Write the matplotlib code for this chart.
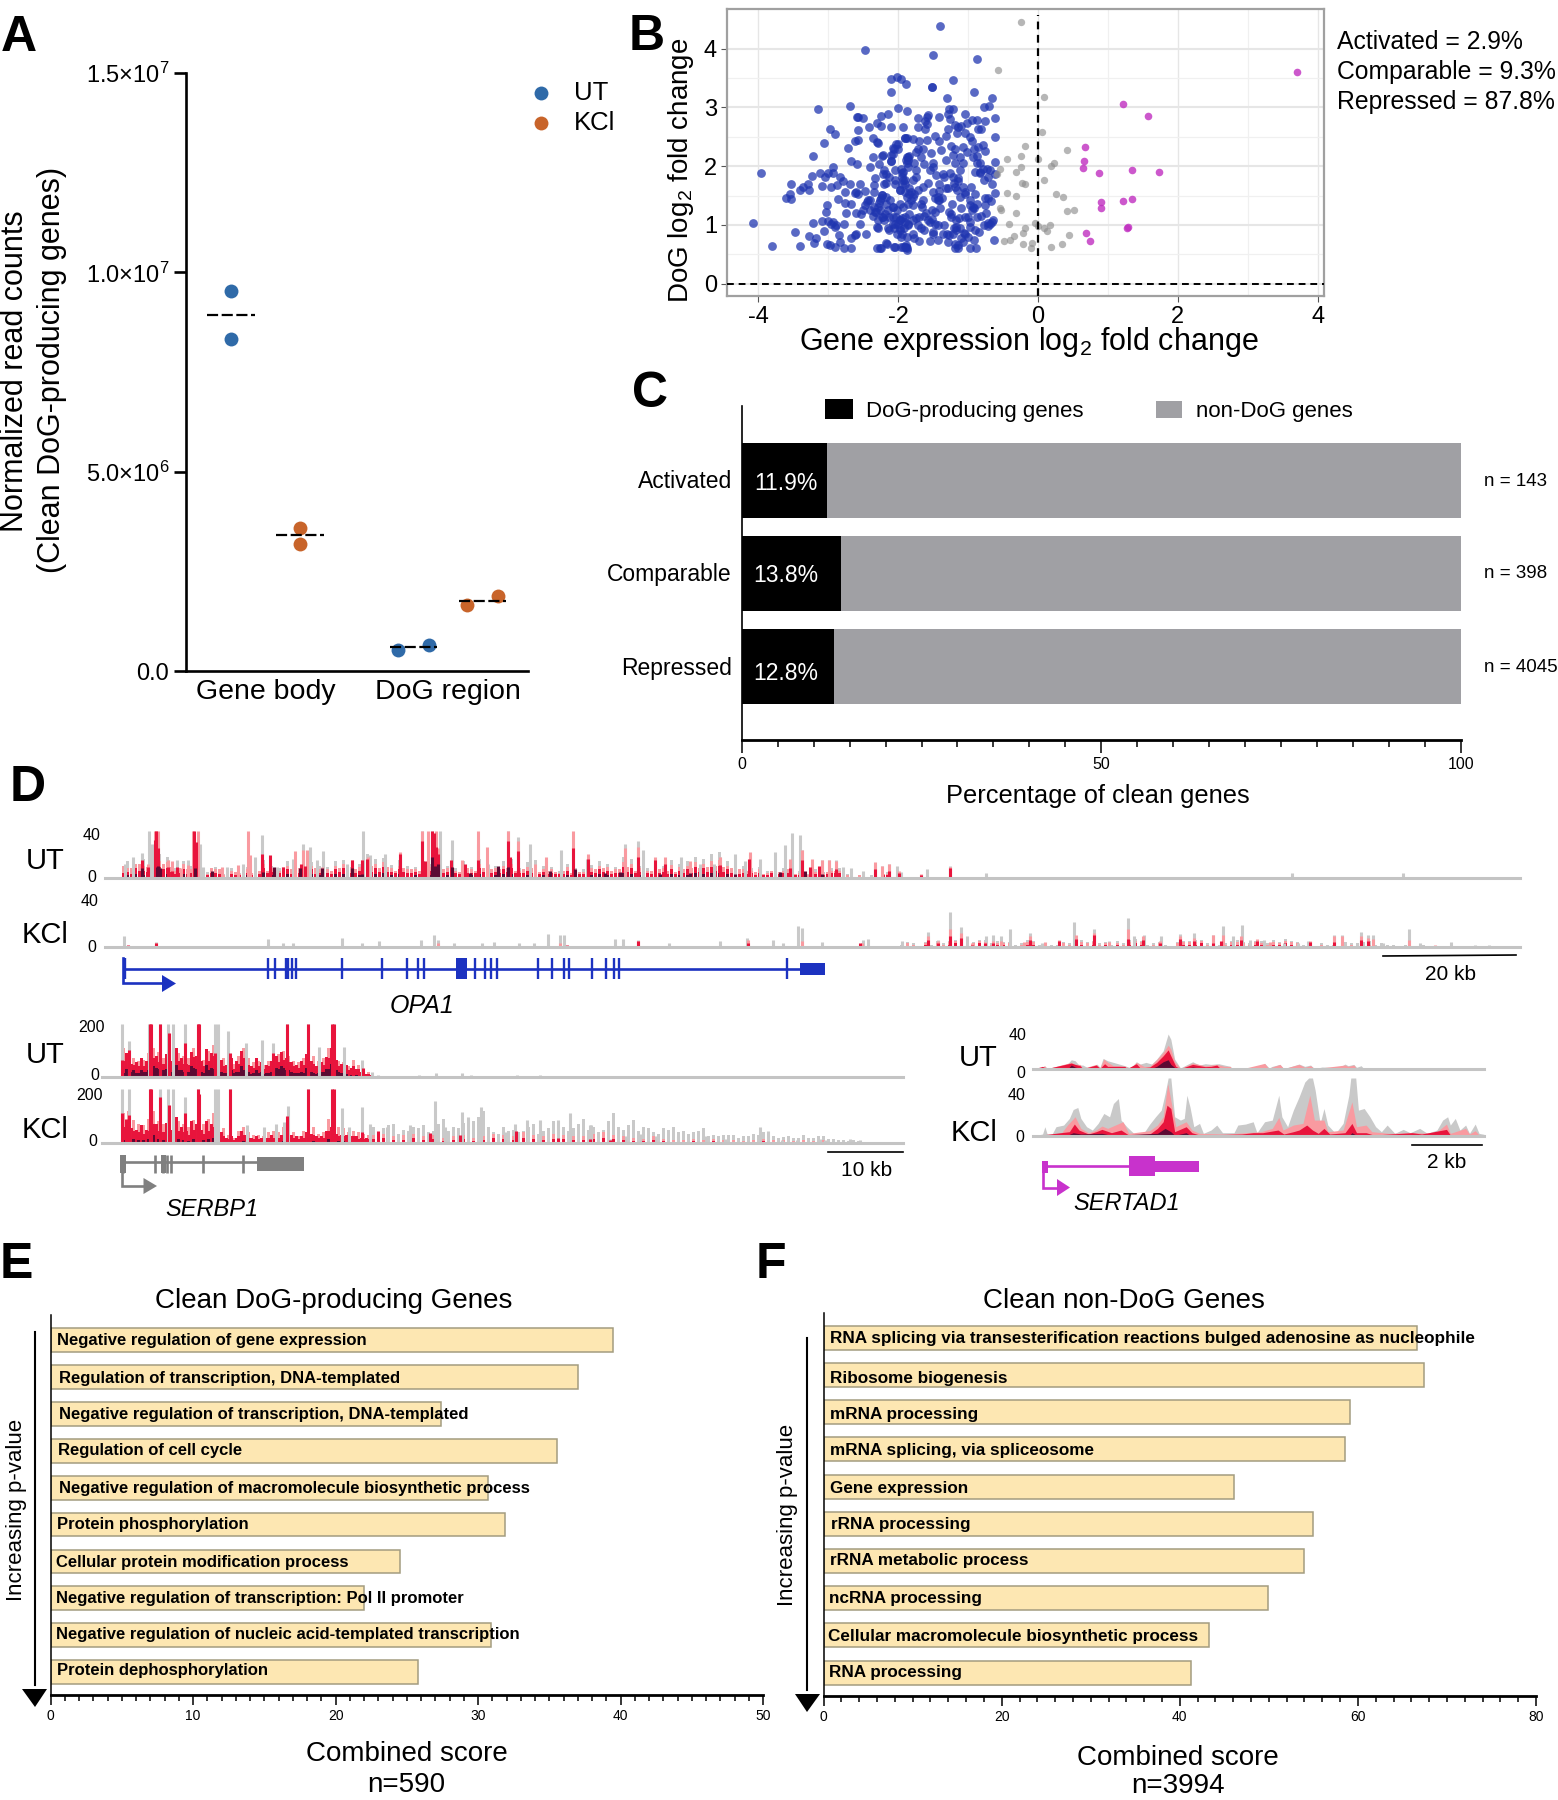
import matplotlib
matplotlib.use('Agg')
import matplotlib.pyplot as plt

plt.rcParams['font.family'] = ['Liberation Sans', 'DejaVu Sans']
plt.rcParams['mathtext.fontset'] = 'custom'
plt.rcParams['mathtext.rm'] = 'Liberation Sans'
plt.rcParams['mathtext.it'] = 'Liberation Sans:italic'
plt.rcParams['mathtext.bf'] = 'Liberation Sans:bold'

W, H = 1558, 1800

# ===== panel A =====
a_groups = ['Gene body', 'DoG region']
a_ut_body = [9.52e6, 8.34e6]
a_kcl_body = [3.59e6, 3.19e6]
a_ut_dog = [0.53e6, 0.645e6]
a_kcl_dog = [1.65e6, 1.88e6]
a_means = [8.92e6, 3.4e6, 0.59e6, 1.76e6]
a_ticks = [0, 5e6, 1e7, 1.5e7]
a_ticklabels = ['0.0', '5.0×10$^{6}$', '1.0×10$^{7}$', '1.5×10$^{7}$']

# ===== panel B =====
b_blue_x = [-2.47, -2.11, -2.02, -1.96, -1.89, -2.11, -3.15, -2.69, -2.0, -1.87, -2.59, -2.57, -2.50, -2.24, -2.15,
            -2.98, -2.90, -2.58, -2.42, -2.30, -2.24, -2.1, -1.93, -3.06, -2.62, -2.57, -2.36, -2.31, -2.29, -1.90,
            -2.72, -3.22, -2.0, -3.97, -4.08, -3.80, -3.40, -3.47, -3.22, -3.28, -3.18, -3.20, -3.06, -3.09, -3.0,
            -3.02, -3.03, -2.96, -2.91, -3.02, -2.98, -2.91, -2.85, -2.84, -2.77, -2.67, -2.68, -2.60, -2.46, -2.55,
            -2.78, -2.74, -2.61, -2.50, -2.29, -2.13, -2.30, -2.26, -2.16, -2.05, -1.93, -1.87, -3.54, -3.41, -3.36,
            -3.29, -3.28, -3.60, -3.55, -3.53, -3.24, -3.12, -3.05, -3.01, -2.94, -2.94, -3.09, -2.96, -2.88, -2.84,
            -2.79, -2.69, -2.76, -2.86, -2.76, -2.67, -2.62, -2.57, -2.54, -2.47, -2.45, -2.35, -2.33, -2.35, -2.23,
            -2.35, -2.26, -2.19, -2.29, -2.02, -2.12, -2.07, -1.98, -1.95, -1.98, -2.68, -2.59, -2.41, -2.36, -2.27,
            -2.22, -2.22, -2.10, -2.10, -2.07, -2.01, -1.88, -1.93, -2.18, -2.04, -1.90,
            -1.40, -1.50, -0.87, -1.22, -1.52, -1.52, -0.91, -1.30, -0.66, -0.78, -0.70, -1.27, -1.22, -1.04, -1.41,
            -1.58, -1.59, -1.72, -1.62, -1.29, -1.26, -0.95, -0.88, -0.76, -0.62, -1.72, -1.62, -1.59, -1.19, -1.14,
            -1.10, -1.02, -1.29, -1.16, -1.04, -0.86, -0.81, -1.32, -0.62, -1.91, -1.88, -1.79, -1.70, -1.59, -1.47,
            -1.42, -0.98, -0.95, -2.03, -2.06, -1.72, -1.65, -1.39, -1.24, -1.19, -1.08, -0.92, -0.86, -0.79, -0.76,
            -2.23, -2.08, -1.85, -1.75, -1.53, -1.68, -1.11, -1.21, -0.88, -2.11, -1.89, -1.78, -1.63, -1.50, -0.88,
            -0.83, -0.61, -1.07, -1.19, -1.96, -1.86, -2.2, -2.18, -1.94, -1.75, -1.46, -1.36, -1.26, -1.12, -1.22,
            -0.90, -0.83, -0.73, -0.69, -0.71, -2.2, -2.05, -1.94, -1.79, -1.58, -1.32, -1.15, -0.66, -0.78, -0.96,
            -1.84, -1.98, -1.77, -1.50, -1.16, -1.05, -0.62, -2.23, -1.48, -1.43, -1.38, -0.90, -0.76, -0.68, -0.98,
            -1.12, -0.88, -1.98, -1.86, -1.67, -1.23, -2.18, -2.08, -1.79, -1.48, -1.28, -1.10, -0.95, -0.74, -2.23,
            -2.13, -1.98, -1.90, -1.70, -1.63, -1.55, -1.17, -1.05, -0.66, -0.71, -0.77, -1.72, -1.48, -1.34, -1.12,
            -0.98, -0.90, -2.15, -1.98, -1.86, -1.50, -1.63, -0.85, -1.96, -1.78, -1.55, -1.43, -1.29, -1.19, -1.14,
            -1.07, -0.98, -0.89, -0.91, -0.63, -2.18, -2.06, -1.96, -1.89, -1.87, -2.25, -1.20, -1.13, -1.43, -1.40,
            -1.28, -1.25, -1.85, -1.82, -1.10, -0.92, -0.72, -1.20, -1.15, -0.98, -1.05, -1.52, -1.88, -1.92, -2.05,
            -2.24, -2.28, -2.32, -2.20, -1.66, -1.60, -1.52, -1.42, -1.30, -1.06, -0.82, -2.36, -2.40, -1.74, -1.70,
            -1.17, -1.17, -2.03, -1.94, -1.84, -1.82, -1.79, -1.91, -1.94, -1.86, -1.43, -1.41, -1.34, -1.29, -0.83,
            -0.79, -0.98, -0.93, -1.22, -1.14, -1.19, -1.89, -1.50, -0.64, -0.69, -1.72, -1.65, -1.58, -1.24, -1.0,
            -0.88, -2.08, -2.06, -1.79, -1.79, -1.67, -1.36, -1.05, -1.0, -0.76, -0.71, -0.61, -1.07, -1.19, -1.41,
            -1.65, -1.75, -2.05, -2.13, -1.55, -1.5, -1.02, -0.93, -1.31, -2.29, -2.22, -2.14, -2.07, -1.93, -2.0,
            -1.9, -1.86, -1.90, -1.98, -1.88, -1.86, -1.93, -2.17, -2.26, -2.41, -2.33, -2.53, -2.48, -2.43, -2.60,
            -2.31, -2.02, -1.90, -1.88, -2.62, -2.93, -2.89]
b_blue_y = [3.97, 3.48, 3.51, 3.49, 3.39, 3.27, 2.97, 3.03, 2.99, 2.94, 2.84, 2.83, 2.82, 2.86, 2.89,
            2.64, 2.55, 2.61, 2.66, 2.74, 2.68, 2.67, 2.66, 2.40, 2.43, 2.45, 2.48, 2.41, 2.40, 2.48,
            2.31, 2.18, 2.37, 1.89, 1.03, 0.64, 0.64, 0.88, 1.03, 0.81, 0.78, 0.70, 0.89, 1.07, 1.06,
            1.34, 1.22, 1.02, 0.97, 0.68, 0.66, 0.62, 0.82, 0.71, 0.61, 0.61, 0.77, 0.84, 0.85, 1.01,
            1.02, 1.20, 1.20, 1.25, 0.94, 0.92, 0.61, 0.60, 0.68, 0.62, 0.62, 0.61, 1.69, 1.59, 1.65,
            1.70, 1.59, 1.45, 1.52, 1.44, 1.83, 1.88, 1.82, 1.89, 1.99, 1.89, 1.67, 1.65, 1.68, 1.81,
            1.75, 1.70, 1.56, 1.44, 1.38, 1.36, 1.55, 1.53, 1.70, 1.58, 1.39, 1.68, 1.79, 1.56, 1.51,
            1.31, 1.25, 1.19, 1.08, 1.25, 1.42, 1.14, 1.08, 0.85, 0.94, 2.09, 2.03, 1.99, 2.15, 2.03,
            2.19, 1.86, 2.19, 2.09, 2.31, 2.30, 2.16, 1.90, 1.72, 1.70, 1.70,
            4.38, 3.90, 3.82, 3.47, 3.35, 3.34, 3.26, 3.16, 3.16, 3.01, 3.03, 2.98, 2.97, 2.89, 2.84,
            2.87, 2.83, 2.82, 2.77, 2.89, 2.81, 2.79, 2.79, 2.77, 2.82, 2.67, 2.63, 2.72, 2.70, 2.66,
            2.68, 2.73, 2.63, 2.56, 2.57, 2.63, 2.64, 2.52, 2.49, 2.48, 2.48, 2.47, 2.43, 2.44, 2.52,
            2.43, 2.50, 2.43, 2.37, 2.30, 2.29, 2.30, 2.27, 2.34, 2.30, 2.32, 2.30, 2.33, 2.36, 2.26,
            2.18, 2.20, 2.18, 2.24, 2.22, 2.16, 2.16, 2.19, 2.18, 2.09, 2.10, 2.06, 2.03, 1.99, 2.05,
            2.06, 2.07, 2.05, 2.05, 1.96, 1.99, 1.93, 1.86, 1.88, 1.93, 1.85, 1.86, 1.89, 1.93, 1.82,
            1.90, 1.88, 1.96, 1.93, 1.82, 1.70, 1.76, 1.70, 1.76, 1.72, 1.62, 1.75, 1.69, 1.76, 1.65,
            1.62, 1.59, 1.53, 1.56, 1.59, 1.56, 1.55, 1.51, 1.45, 1.42, 1.45, 1.52, 1.46, 1.41, 1.42,
            1.48, 1.36, 1.36, 1.36, 1.36, 1.36, 1.36, 1.31, 1.34, 1.22, 1.22, 1.28, 1.25, 1.20, 1.14,
            1.14, 1.08, 1.05, 1.14, 1.16, 1.05, 1.08, 1.14, 1.05, 1.03, 1.0, 1.0, 1.02, 1.0, 0.94,
            0.97, 0.91, 0.94, 0.91, 1.0, 0.88, 0.91, 0.88, 0.80, 0.77, 0.73, 0.74, 0.71, 0.67, 0.60,
            0.71, 0.61, 0.60, 0.74, 0.75, 0.69, 0.62, 0.62, 0.65, 0.58, 0.60, 0.95, 1.12, 1.0, 1.28,
            0.82, 1.18, 1.18, 1.42, 0.78, 1.28, 0.98, 1.72, 1.80, 1.05, 1.52, 1.26, 1.48, 0.95, 1.02,
            1.46, 1.38, 1.22, 1.08, 1.30, 1.20, 1.10, 1.58, 0.84, 0.86, 1.16, 1.16, 1.42, 1.12, 0.72,
            0.91, 0.97, 1.14, 1.11, 1.53, 1.56, 1.48, 1.76, 1.82, 2.16, 1.48, 1.42, 1.82, 1.62, 1.90,
            1.96, 1.34, 1.31, 0.85, 0.65, 0.60, 0.62, 0.85, 1.08, 1.02, 1.59, 1.42, 1.08, 1.14, 1.14,
            1.14, 1.02, 0.94, 1.08, 0.85, 0.94, 0.85, 0.85, 0.80, 1.34, 1.45, 1.87, 1.65, 1.65, 1.70,
            1.65, 1.82, 1.93, 1.82, 1.93, 2.05, 2.24, 2.16, 2.10, 1.31, 1.14, 1.25, 1.31, 1.31, 1.02,
            1.14, 1.02, 1.56, 1.59, 2.05, 2.10, 1.76, 1.48, 1.42, 1.25, 1.22, 1.19, 1.34, 1.42, 1.56,
            0.97, 0.85, 0.62, 0.80, 0.82, 1.05, 1.0]
b_grey_x = [-0.25, -0.58, 0.08, 0.06, -0.18, 0.42, -0.25, -0.44, 0, 0.23, 0.19, -0.25, -0.54, -0.32, -0.59, 0.08,
            -0.23, -0.19, -0.44, -0.32, 0.25, 0.35, -0.54, -0.53, -0.32, 0.41, 0.51, -0.42, -0.04, 0, 0.17, -0.18,
            -0.21, 0.08, 0.13, 0.44, -0.34, -0.40, -0.49, 0.34, 0.18, -0.21, -0.08, -0.10]
b_grey_y = [4.46, 3.64, 3.18, 2.58, 2.34, 2.28, 2.18, 2.12, 2.12, 2.05, 2.0, 1.99, 1.95, 1.90, 1.87, 1.77,
            1.72, 1.69, 1.54, 1.49, 1.52, 1.47, 1.28, 1.26, 1.20, 1.23, 1.26, 1.02, 1.04, 0.98, 1.0, 0.94,
            0.87, 0.95, 0.89, 0.82, 0.81, 0.74, 0.72, 0.68, 0.62, 0.67, 0.69, 0.60]
b_pink_x = [3.71, 1.21, 1.57, 0.67, 0.66, 0.64, 0.87, 1.34, 1.73, 1.34, 1.21, 0.90, 0.90, 1.27, 1.28, 0.69, 0.75]
b_pink_y = [3.60, 3.05, 2.85, 2.32, 2.08, 1.97, 1.88, 1.94, 1.90, 1.44, 1.41, 1.39, 1.28, 0.95, 0.96, 0.87, 0.73]
b_notes = ['Activated = 2.9%', 'Comparable = 9.3%', 'Repressed = 87.8%']

# ===== panel C =====
c_cats = ['Activated', 'Comparable', 'Repressed']
c_dog = [11.9, 13.8, 12.8]
c_non = [88.1, 86.2, 87.2]
c_n = ['n = 143', 'n = 398', 'n = 4045']

# ===== panels E, F =====
e_terms = ['Negative regulation of gene expression', 'Regulation of transcription, DNA-templated',
           'Negative regulation of transcription, DNA-templated', 'Regulation of cell cycle',
           'Negative regulation of macromolecule biosynthetic process', 'Protein phosphorylation',
           'Cellular protein modification process', 'Negative regulation of transcription: Pol II promoter',
           'Negative regulation of nucleic acid-templated transcription', 'Protein dephosphorylation']
e_scores = [39.5, 37.0, 27.4, 35.55, 30.7, 31.9, 24.5, 22.0, 30.9, 25.8]
f_terms = ['RNA splicing via transesterification reactions bulged adenosine as nucleophile', 'Ribosome biogenesis',
           'mRNA processing', 'mRNA splicing, via spliceosome', 'Gene expression', 'rRNA processing',
           'rRNA metabolic process', 'ncRNA processing', 'Cellular macromolecule biosynthetic process',
           'RNA processing']
f_scores = [66.6, 67.4, 59.1, 58.6, 46.1, 55.0, 53.9, 49.9, 43.3, 41.3]

# ===== panel D, OPA1 =====
opa1_ut_grey_x = [125, 133, 142, 149, 152, 155, 158, 168, 177, 188, 197, 200, 203, 227, 243, 250, 255, 262, 277, 293,
                  303, 310, 317, 323, 347, 363, 370, 385, 400, 422, 432, 440, 452, 478, 488, 508, 518, 530, 546, 561,
                  587, 625, 638, 643, 681, 700, 714, 720, 735, 745, 750, 760, 775, 785, 792, 800, 802, 822, 829, 836,
                  843, 851, 863, 875, 882, 889, 897, 901, 927, 950, 986, 1292, 1403]
opa1_ut_grey_h = [12, 18, 21, 40, 29, 19, 33, 15, 15, 15, 22, 29, 9, 9, 12, 12, 18, 36, 9, 16,
                  29, 26, 15, 23, 12, 40, 19, 20, 15, 40, 40, 40, 32, 29, 12, 40, 35, 29, 15, 24,
                  16, 29, 31, 24, 18, 12, 12, 18, 20, 14, 20, 16, 22, 28, 38, 36, 24, 15, 15, 15,
                  9, 8, 6, 12, 10, 12, 10, 5, 7, 10, 4, 4, 4]
opa1_ut_pink_x = [148, 155, 156, 158, 168, 172, 181, 188, 193, 198, 222, 238, 248, 250, 262, 283, 295, 303, 307, 322,
                  352, 362, 368, 400, 422, 428, 436, 438, 451, 462, 478, 487, 508, 518, 535, 546, 573, 588, 625, 638,
                  655, 665, 690, 720, 750, 790, 802, 812, 822, 829, 836, 875, 882, 889, 899, 921, 950]
opa1_ut_pink_h = [12, 40, 40, 40, 15, 14, 8, 11, 40, 40, 9, 11, 40, 19, 15, 9, 23, 24, 24, 9,
                  15, 15, 18, 22, 40, 40, 40, 25, 11, 15, 40, 26, 40, 31, 12, 18, 40, 20, 25, 26,
                  18, 18, 14, 18, 22, 16, 24, 16, 15, 15, 14, 13, 10, 12, 6, 3, 9]
opa1_ut_red_x = [142, 148, 155, 156, 158, 168, 172, 177, 194, 196, 262, 270, 283, 301, 305, 352, 362, 367, 400, 422,
                 425, 432, 434, 436, 438, 451, 465, 478, 508, 510, 518, 573, 588, 638, 655, 665, 720, 749, 790, 802,
                 810, 819, 836, 875, 889, 899, 921, 950]
opa1_ut_red_h = [15, 9, 32, 40, 25, 9, 6, 9, 40, 30, 20, 19, 9, 12, 10, 15, 15, 16, 20, 31,
                 14, 40, 38, 26, 20, 15, 12, 15, 31, 18, 23, 25, 16, 18, 15, 12, 11, 16, 8, 15,
                 9, 10, 7, 7, 6, 4, 2, 8]
opa1_ut_dark_x = [142, 157, 158, 160, 195, 212, 263, 274, 300, 322, 352, 362, 432, 435, 438, 452, 470, 498, 508, 550,
                  575, 605, 620, 660, 690, 735, 780, 805, 822]
opa1_ut_dark_h = [8, 9, 10, 8, 8, 6, 5, 9, 8, 8, 8, 3, 18, 10, 12, 9, 4, 10, 9, 6,
                  7, 4, 5, 3, 4, 3, 5, 6, 3]
# 8-unit bins from position 122
opa1_ut_pink_bins = [10, 8, 12, 9, 6, 12, 9, 8, 7, 9, 6, 8, 7, 3, 5, 3, 4, 6, 6, 5, 5, 7, 8, 9, 8, 7, 6, 8, 9, 7,
                     6, 10, 8, 9, 6, 8, 7, 6, 8, 8, 7, 6, 5, 8, 6, 8, 7, 7, 8, 6, 7, 8, 5, 6, 5, 6, 4, 5, 5, 7,
                     8, 6, 7, 9, 6, 5, 6, 7, 6, 5, 7, 8, 8, 9, 10, 9, 8, 7, 6, 5, 3, 6, 5, 7, 3, 2, 3, 3, 5, 6,
                     2, 1, 2, 1, 1, 3, 1, 0]
opa1_ut_red_bins = [4, 3, 6, 5, 4, 7, 5, 4, 3, 4, 3, 4, 3, 1, 2, 1, 2, 3, 4, 3, 3, 3, 4, 5, 3, 4, 3, 5, 6, 4,
                    3, 5, 5, 5, 4, 5, 4, 3, 4, 5, 4, 3, 3, 4, 4, 5, 4, 4, 5, 4, 4, 4, 3, 3, 3, 3, 2, 3, 3, 4,
                    5, 3, 4, 5, 4, 2, 3, 4, 3, 3, 4, 4, 5, 5, 6, 5, 4, 3, 3, 2, 2, 4, 3, 4, 2, 1, 2, 2, 3, 4,
                    1, 0, 1, 1, 0, 2, 0, 0]
# same bins, second row of spikes between the first, from position 126
opa1_ut_between_grey = [14, 10, 16, 12, 20, 18, 8, 14, 10, 12, 5, 9, 3, 8, 4, 9, 12, 15, 10, 8, 14, 18, 11, 13, 10, 9, 14,
                        15, 9, 12, 20, 16, 17, 11, 15, 10, 9, 14, 12, 18, 10, 8, 14, 9, 16, 12, 10, 14, 16, 8, 13, 15,
                        10, 9, 6, 12, 8, 7, 11, 14, 12, 9, 18, 16, 10, 8, 12, 10, 15, 12, 14, 18, 16, 20, 22, 14, 12,
                        10, 8, 9, 6, 12, 8, 10, 6, 3, 7, 5, 8, 8, 3, 1, 5, 2, 1, 5, 1, 0]
opa1_ut_between_pink = [8, 12, 10, 7, 14, 13, 6, 12, 7, 9, 3, 7, 2, 6, 3, 7, 9, 12, 8, 6, 10, 13, 9, 10, 7, 7, 10,
                        12, 7, 9, 14, 12, 13, 8, 10, 7, 7, 10, 9, 13, 8, 6, 10, 7, 12, 10, 8, 10, 12, 6, 9, 10,
                        7, 7, 4, 9, 6, 5, 8, 10, 9, 7, 13, 12, 8, 6, 9, 8, 11, 9, 10, 13, 12, 14, 15, 10, 9,
                        7, 6, 7, 4, 9, 6, 7, 4, 2, 5, 3, 6, 6, 2, 1, 3, 1, 1, 3, 0, 0]
opa1_ut_between_red = [5, 8, 6, 4, 9, 8, 3, 7, 4, 6, 2, 4, 1, 3, 2, 4, 6, 8, 5, 4, 7, 9, 5, 7, 4, 4, 7,
                       8, 4, 6, 10, 8, 9, 5, 7, 4, 5, 7, 6, 9, 5, 4, 7, 4, 8, 7, 5, 7, 8, 4, 6, 7,
                       5, 4, 3, 6, 4, 3, 5, 7, 6, 4, 9, 8, 5, 4, 6, 5, 7, 6, 7, 9, 8, 9, 10, 7, 6,
                       4, 4, 4, 2, 6, 4, 4, 2, 1, 3, 2, 4, 4, 1, 0, 2, 1, 0, 2, 0, 0]
opa1_ut_between_dark = [2, 3, 2, 1, 4, 3, 1, 3, 1, 2, 1, 1, 0, 1, 1, 2, 3, 4, 2, 1, 3, 4, 2, 3, 2, 1, 3,
                        3, 1, 2, 5, 3, 4, 2, 3, 1, 2, 3, 2, 4, 2, 1, 3, 2, 3, 3, 2, 3, 3, 1, 2, 3,
                        2, 1, 1, 2, 1, 1, 2, 3, 2, 1, 4, 3, 2, 1, 2, 1, 3, 2, 2, 4, 3, 4, 4, 3, 2,
                        1, 1, 1, 0, 2, 1, 1, 0, 0, 1, 0, 1, 1, 0, 0, 0, 0, 0, 0, 0, 0]
opa1_kcl_grey_x = [124, 156, 268, 283, 293, 342, 362, 379, 421, 434, 438, 454, 482, 494, 519, 534, 548, 560, 564, 615,
                   623, 638, 669, 720, 747, 773, 783, 798, 802, 822, 863, 868, 902, 928, 938, 950, 961, 967, 986, 993,
                   1001, 1010, 1030, 1042, 1074, 1094, 1109, 1128, 1134, 1144, 1161, 1180, 1194, 1213, 1223, 1233,
                   1242, 1250, 1264, 1284, 1298, 1308, 1334, 1342, 1361, 1368, 1373, 1383, 1409, 1420, 1451, 1475, 1489]
opa1_kcl_grey_h = [9, 4, 7, 3, 3, 8, 3, 5, 6, 10, 6, 3, 3, 4, 3, 3, 11, 10, 10, 7,
                   7, 6, 3, 5, 8, 6, 3, 18, 16, 4, 6, 7, 5, 13, 6, 30, 17, 9, 9, 10,
                   9, 15, 12, 3, 21, 15, 5, 25, 9, 10, 9, 11, 12, 10, 18, 9,
                   19, 6, 6, 3, 3, 5, 10, 10, 13, 10, 10, 3, 15, 3, 4, 2, 2]
opa1_kcl_pink_x = [156, 438, 560, 638, 748, 802, 862, 928, 938, 950, 961, 972, 985, 993, 1001, 1024, 1030, 1045, 1059,
                   1076, 1094, 1109, 1128, 1143, 1160, 1180, 1194, 1213, 1223, 1241, 1257, 1270, 1310, 1334, 1342,
                   1361, 1368, 1373, 1409, 1435]
opa1_kcl_pink_h = [3, 3, 3, 5, 6, 5, 3, 9, 5, 15, 12, 3, 4, 5, 5, 4, 9, 4, 6,
                   10, 12, 4, 15, 9, 5, 9, 8, 10, 10, 9, 7, 4, 5, 9, 9,
                   9, 8, 7, 6, 2]
opa1_kcl_red_x = [128, 156, 567, 638, 748, 860, 928, 938, 950, 961, 972, 985, 993, 1030, 1059, 1076, 1094, 1128, 1143,
                  1160, 1180, 1194, 1213, 1221, 1241, 1257, 1310, 1334, 1361, 1368]
opa1_kcl_red_h = [2, 3, 2, 5, 3, 3, 6, 3, 9, 8, 2, 3, 3, 6, 5, 7, 10, 7, 6,
                  3, 7, 5, 3, 5, 6, 5, 4, 4, 6, 5]
# 6-unit bins from position 900, low signal under the peaks
opa1_kcl_tail_grey = [2, 4, 3, 1, 4, 2, 5, 3, 5, 6, 3, 2, 4, 6, 6, 3, 5, 4, 4, 2, 3, 6, 5, 2, 3, 2, 2, 4, 3, 5, 6, 4,
                      5, 3, 4, 2, 5, 3, 6, 7, 5, 2, 3, 4, 2, 1, 4, 5, 5, 6, 6, 3, 4, 2, 3, 5, 6, 4, 3, 5, 5, 3,
                      6, 4, 7, 5, 4, 2, 3, 1, 3, 2, 2, 1, 4, 3, 3, 4, 5, 2, 3, 2, 2, 1, 2, 1, 1, 2, 1, 1]
opa1_kcl_tail_pink = [1, 3, 2, 0, 3, 1, 3, 2, 4, 5, 2, 1, 3, 5, 4, 2, 3, 3, 3, 1, 2, 4, 4, 1, 2, 1, 1, 3, 2, 4, 4, 3,
                      4, 2, 3, 1, 3, 2, 4, 5, 4, 1, 2, 3, 1, 1, 3, 4, 4, 4, 5, 2, 3, 1, 2, 4, 4, 3, 2, 4, 3, 2,
                      4, 3, 5, 4, 3, 1, 2, 0, 2, 1, 1, 0, 1, 2, 1, 1, 2, 1, 1, 1, 1, 0, 1, 0, 1, 0, 0, 0]
opa1_kcl_tail_red = [0, 1, 1, 0, 2, 0, 1, 1, 2, 3, 1, 0, 1, 3, 2, 1, 2, 2, 1, 0, 1, 2, 2, 0, 1, 0, 0, 1, 1, 2, 2, 1,
                     2, 1, 2, 0, 2, 1, 2, 3, 2, 0, 1, 1, 0, 0, 1, 2, 2, 2, 3, 1, 1, 0, 1, 2, 2, 1, 1, 2, 2, 1,
                     2, 2, 3, 2, 1, 0, 1, 0, 1, 0, 0, 0, 0, 1, 0, 0, 1, 0, 0, 0, 0, 0, 0, 0, 0, 0, 0, 0]
opa1_exons = [125, 268, 275, 286, 288, 292, 296, 342, 382, 407, 418, 424, 475, 485, 491, 497, 538, 552, 564, 569, 592,
              606, 614, 619, 787]

# ===== panel D, SERBP1 =====
serbp1_ut_grey_x = [122, 129, 149, 160, 168, 173, 185, 198, 215, 218, 228, 246, 262, 273, 287, 308, 319, 333, 344, 362,
                    372, 378, 419, 436, 462, 471, 517, 540]
serbp1_ut_grey_h = [200, 135, 200, 200, 200, 200, 200, 200, 200, 200, 172, 128, 140, 128, 200, 200, 115, 200, 115, 65,
                    20, 8, 9, 15, 15, 9, 6, 9]
serbp1_ut_red_x = [122, 129, 150, 151, 160, 169, 185, 198, 199, 215, 230, 273, 287, 308, 332, 334, 353, 363]
serbp1_ut_red_h = [65, 103, 200, 200, 200, 166, 128, 200, 200, 90, 90, 90, 200, 200, 200, 200, 40, 34]
# 5-unit bins from position 122
serbp1_ut_pink_bins = [110, 80, 70, 60, 65, 90, 110, 95, 70, 100, 85, 90, 80, 70, 110, 70, 65, 100, 120, 80, 70, 60, 50,
                       80, 110, 70, 55, 60, 45, 60, 75, 85, 100, 80, 60, 55, 70, 100, 80, 60, 70, 110, 120, 60, 55, 40,
                       65, 45, 30, 20]
serbp1_ut_red_bins = [60, 70, 45, 40, 40, 55, 70, 55, 50, 65, 55, 60, 50, 45, 75, 50, 40, 60, 80, 50, 40, 40, 30,
                      50, 70, 45, 35, 40, 30, 40, 50, 55, 65, 55, 40, 35, 45, 70, 50, 35, 45, 70, 85, 40, 35, 25,
                      40, 30, 15, 10]
serbp1_ut_dark_bins = [15, 30, 25, 15, 20, 25, 40, 30, 25, 35, 20, 25, 20, 20, 35, 25, 15, 25, 30, 20, 15, 15, 15,
                       20, 25, 20, 15, 15, 10, 15, 20, 30, 35, 25, 15, 15, 15, 25, 15, 15, 20, 30, 40, 20, 10, 5,
                       10, 5, 3, 2]
# second row of spikes from position 125
serbp1_ut_between_red = [90, 50, 55, 70, 60, 100, 80, 45, 85, 60, 110, 70, 50, 95, 80, 60, 105, 90, 55, 65, 45, 70, 60,
                         100, 50, 40, 70, 55, 45, 60, 80, 95, 70, 55, 45, 60, 85, 60, 40, 55, 75, 110, 65, 50, 45, 35,
                         30, 20, 12, 8]
serbp1_ut_between_dark = [30, 20, 15, 25, 20, 45, 35, 15, 30, 20, 45, 25, 15, 40, 30, 20, 45, 35, 20, 20, 15, 25, 20,
                          40, 15, 10, 25, 20, 15, 20, 35, 40, 25, 20, 15, 20, 35, 20, 12, 20, 30, 50, 25, 15, 10, 8,
                          8, 5, 2, 2]
serbp1_kcl_grey_x = [122, 129, 150, 160, 168, 173, 185, 198, 215, 218, 230, 247, 264, 276, 284, 288, 308, 332, 342, 349,
                     362, 370, 387, 410, 435, 445, 462, 468, 481, 505, 515, 527, 540, 558, 570, 591, 590, 610, 626, 640,
                     656, 678, 706, 725, 760, 768, 782, 797, 820, 825, 850, 860]
serbp1_kcl_grey_h = [200, 200, 200, 200, 200, 200, 169, 200, 200, 200, 200, 66, 60, 72, 78, 136, 200, 200, 128, 60,
                     134, 72, 60, 66, 155, 60, 116, 97, 134, 42, 72, 87, 87, 85, 112, 68, 68, 15, 25, 35, 25, 25, 25,
                     15, 60, 45, 10, 12, 16, 12, 15, 12]
serbp1_kcl_red_x = [122, 126, 129, 150, 151, 160, 169, 185, 198, 199, 230, 287, 308, 332, 334, 362, 378, 430, 460, 516,
                    558, 590, 610]
serbp1_kcl_red_h = [110, 90, 105, 200, 200, 170, 140, 110, 200, 180, 200, 100, 200, 200, 200, 40, 45, 38, 30, 45,
                    20, 14, 10]
# 5-unit bins from position 122
serbp1_kcl_pink_bins = [110, 120, 85, 70, 65, 90, 120, 80, 70, 100, 90, 80, 70, 60, 85, 70, 70, 90, 110, 80, 55, 30, 20,
                        45, 60, 40, 30, 30, 25, 40, 45, 40, 60, 50, 40, 25, 45, 100, 60, 35, 40, 90, 110, 60, 55, 40,
                        45, 40, 35, 30]
serbp1_kcl_red_bins = [60, 70, 45, 40, 35, 45, 70, 45, 40, 60, 50, 45, 40, 30, 50, 40, 35, 45, 60, 40, 25, 15, 10,
                       25, 30, 20, 15, 15, 10, 20, 20, 20, 30, 25, 20, 15, 20, 50, 30, 20, 20, 45, 60, 25, 25, 15,
                       25, 15, 15, 15]
serbp1_kcl_dark_bins = [10, 25, 15, 10, 10, 15, 30, 15, 10, 25, 15, 15, 10, 8, 15, 10, 10, 15, 20, 10, 5, 2, 2,
                        5, 8, 5, 3, 3, 2, 4, 5, 4, 8, 8, 5, 3, 4, 15, 8, 3, 5, 15, 25, 8, 6, 3,
                        5, 3, 3, 3]
# second row of spikes from position 125
serbp1_kcl_between_red = [80, 55, 50, 65, 50, 85, 70, 40, 75, 50, 95, 60, 45, 80, 70, 50, 80, 70, 45, 40, 20, 25, 20,
                          45, 30, 20, 25, 20, 20, 30, 35, 30, 35, 30, 25, 25, 40, 35, 25, 25, 45, 60, 35, 30, 30, 25,
                          25, 20, 18, 15]
# 10-unit bins from position 372, with a second row from position 377
serbp1_kcl_tail_grey = [60, 55, 70, 50, 60, 65, 45, 90, 60, 75, 80, 120, 40, 60, 50, 45, 70, 45, 80, 60,
                        55, 90, 60, 50, 110, 50, 85, 60, 40, 55, 60, 45, 40, 55, 30, 30, 28, 25, 35, 40,
                        25, 22, 18, 30, 20, 25, 15, 12, 10]
serbp1_kcl_tail_grey2 = [40, 65, 35, 45, 55, 40, 70, 45, 55, 50, 95, 60, 35, 45, 40, 60, 35, 55, 75, 45,
                         70, 50, 40, 80, 60, 65, 45, 55, 35, 50, 40, 35, 45, 25, 25, 30, 20, 25, 30, 30,
                         20, 25, 20, 18, 25, 15, 10, 8, 6]
serbp1_kcl_tail_pink = [30, 35, 25, 30, 35, 25, 30, 20, 25, 30, 20, 25, 35, 30, 25, 40, 30, 25, 35, 30,
                        25, 25, 35, 40, 30, 25, 20, 15, 25, 15, 12, 10, 15, 12, 15, 12, 10, 8, 12, 15,
                        12, 10, 8, 10, 6, 10, 5, 4, 3]
serbp1_kcl_tail_red = [15, 18, 10, 12, 18, 10, 14, 8, 10, 14, 8, 10, 20, 15, 10, 20, 14, 10, 16, 14,
                       10, 12, 16, 18, 14, 10, 8, 6, 10, 6, 5, 4, 6, 5, 7, 5, 4, 3, 5, 7,
                       5, 4, 3, 4, 2, 4, 2, 1, 1]
serbp1_exons = [123, 155, 163, 167, 171, 203, 243]

# ===== panel D, SERTAD1 (position on the track, height as read) =====
sert_ut_grey_x = [295, 318, 325, 332, 375, 395, 405, 415, 425, 440, 455, 462, 470, 478, 490, 505, 520, 535, 550, 565,
                  575, 590, 605, 618, 635, 648, 655, 665, 680, 712, 730, 745, 760, 780, 795, 810, 815, 850, 880, 900,
                  912, 920, 940, 950, 990, 1005, 1020, 1030, 1050, 1075, 1090, 1110, 1118, 1133, 1140, 1152, 1160, 1473]
sert_ut_grey_h = [0, 2, 10, 2, 2, 28, 25, 12, 12, 3, 5, 15, 5, 32, 25, 20, 15, 10, 3, 22,
                  15, 20, 15, 30, 55, 106, 90, 30, 3, 22, 12, 16, 14, 16, 12, 8, 1, 4, 1, 17,
                  3, 8, 14, 1, 15, 8, 12, 1, 6, 5, 1, 15, 10, 14, 5, 10, 0, 0]
sert_ut_pink_x = [295, 318, 325, 332, 395, 405, 418, 425, 460, 470, 480, 490, 505, 520, 535, 550, 565, 585, 600, 618,
                  635, 648, 655, 665, 680, 712, 745, 775, 795, 810, 815, 850, 900, 910, 940, 950, 990, 1005, 1020,
                  1030, 1110, 1118, 1133, 1140, 1473]
sert_ut_pink_h = [0, 2, 10, 1, 20, 14, 14, 2, 14, 3, 30, 20, 10, 10, 8, 2, 20, 8, 8, 28,
                  50, 72, 60, 22, 2, 18, 10, 14, 8, 8, 1, 3, 17, 2, 14, 1, 14, 5, 10,
                  1, 12, 8, 12, 1, 0]
sert_ut_red_x = [295, 320, 330, 395, 405, 418, 425, 460, 470, 482, 490, 520, 535, 540, 565, 575, 600, 618, 635, 648,
                 655, 668, 680, 712, 745, 760, 775, 785, 800, 1473]
sert_ut_red_h = [0, 8, 1, 18, 14, 10, 1, 12, 2, 16, 8, 8, 8, 1, 16, 3, 6, 20, 40, 58,
                 40, 8, 1, 14, 7, 8, 12, 1, 3, 0]
sert_ut_dark_x = [385, 395, 405, 415, 425, 450, 460, 470, 482, 490, 600, 618, 635, 648, 655, 668, 680, 712, 730, 745]
sert_ut_dark_h = [0, 12, 6, 3, 0, 0, 4, 0, 5, 0, 0, 8, 22, 28, 14, 2, 0, 6, 3, 0]
sert_kcl_grey_x = [295, 320, 326, 332, 345, 355, 375, 390, 400, 412, 420, 435, 450, 465, 480, 495, 505, 518, 525, 540,
                   560, 585, 600, 615, 630, 640, 648, 655, 665, 680, 690, 697, 705, 715, 730, 740, 760, 775, 790, 820,
                   830, 850, 870, 880, 900, 920, 937, 945, 960, 975, 990, 1005, 1015, 1025, 1032, 1045, 1055, 1065,
                   1085, 1105, 1120, 1125, 1138, 1145, 1160, 1175, 1190, 1205, 1220, 1240, 1262, 1280, 1305, 1325,
                   1350, 1365, 1378, 1385, 1398, 1410, 1425, 1435, 1450, 1460, 1473]
sert_kcl_grey_h = [0, 6, 28, 6, 6, 28, 33, 53, 80, 86, 53, 28, 18, 38, 68, 58, 98, 113, 48, 28,
                   6, 10, 36, 58, 78, 128, 175, 175, 58, 48, 53, 123, 88, 28, 38, 8, 18, 33, 10, 10,
                   33, 36, 43, 10, 43, 48, 123, 58, 28, 78, 118, 163, 175, 175, 138, 38, 83, 33,
                   8, 38, 123, 175, 175, 78, 83, 58, 28, 13, 33, 8, 20, 10, 23, 8,
                   18, 48, 58, 33, 53, 18, 33, 8, 36, 8, 5]
sert_kcl_pink_x = [295, 340, 370, 385, 405, 420, 440, 460, 475, 490, 510, 530, 545, 600, 620, 635, 647, 655, 668, 695,
                   710, 730, 800, 890, 920, 937, 948, 975, 1000, 1018, 1030, 1055, 1065, 1105, 1128, 1140, 1165, 1180,
                   1225, 1290, 1345, 1375, 1385, 1425, 1435, 1450, 1460, 1473]
sert_kcl_pink_h = [0, 3, 10, 33, 58, 23, 10, 18, 30, 23, 33, 43, 8, 16, 33, 58, 158, 108, 28, 43,
                   18, 8, 6, 13, 23, 56, 18, 33, 38, 123, 48, 48, 13, 18, 103, 28, 33, 13,
                   8, 10, 8, 36, 8, 23, 6, 16, 3, 0]
sert_kcl_red_x = [295, 390, 403, 415, 440, 460, 475, 500, 525, 545, 600, 620, 635, 645, 655, 665, 695, 710, 730, 840,
                  870, 895, 935, 950, 975, 990, 1010, 1025, 1040, 1055, 1070, 1110, 1128, 1140, 1165, 1185, 1285, 1310,
                  1375, 1385, 1473]
sert_kcl_red_h = [0, 13, 36, 18, 6, 13, 20, 10, 18, 3, 6, 23, 43, 93, 83, 13, 28, 10, 3, 6,
                  10, 10, 18, 6, 13, 18, 33, 18, 8, 23, 6, 10, 38, 10, 10, 3, 10, 6,
                  20, 3, 0]
sert_kcl_dark_x = [380, 400, 420, 475, 500, 620, 640, 655, 665, 695, 705, 1120, 1128, 1140]
sert_kcl_dark_h = [0, 10, 6, 8, 2, 8, 23, 13, 2, 10, 2, 0, 10, 2]


GREY, PINK, RED, DARK = '#c9c9c9', '#f99aa0', '#e8143c', '#5c0a33'


def px_axes(left, top, right, bottom):
    return fig.add_axes([left / W, 1 - bottom / H, (right - left) / W, (bottom - top) / H])


def spikes(ax, xs, hs, color, lw=2.2):
    ax.vlines(xs, 0, hs, color=color, lw=lw)


def binned(ax, start, step, hs, color, width=3.0):
    # narrow bars so that the signal stays spiky
    ax.bar([start + i * step for i in range(len(hs))], hs, width=width, align='edge', color=color, lw=0)


def track_axes(left, top, right, bottom, ymax):
    ax = px_axes(left, top, right, bottom)
    ax.set_xlim(left, right)
    ax.set_ylim(0, ymax)
    ax.axis('off')
    return ax


def baseline(ax):
    ax.axhline(0, color='#c4c4c4', lw=2.2, clip_on=False, zorder=5)


def label(x, y, s, **kw):
    # va='center' sits a little high against the reference
    ov.text(x, y + 2, s, **kw)


fig = plt.figure(figsize=(W / 100, H / 100), dpi=100)

# overlay in picture pixels for labels and gene models
ov = px_axes(0, 0, W, H)
ov.set_xlim(0, W)
ov.set_ylim(H, 0)
ov.axis('off')
ov.set_zorder(10)

for letter, lx, ly in [('A', 19, 36), ('B', 647, 35), ('C', 650, 392), ('D', 28, 786), ('E', 16, 1263), ('F', 771, 1263)]:
    label(lx, ly, letter, fontsize=36, fontweight='bold', ha='center', va='center')

# ===== A =====
ax = px_axes(186, 73, 528, 671)
ax.set_xlim(-0.4356, 1.438)
ax.set_ylim(0, 1.5e7)
ax.scatter([-0.19, -0.19], a_ut_body, s=100, color='#2f6aa8', lw=0, zorder=3)
ax.scatter([0.19, 0.19], a_kcl_body, s=100, color='#c8642a', lw=0, zorder=3)
ax.scatter([1 - 0.274, 1 - 0.104], a_ut_dog, s=100, color='#2f6aa8', lw=0, zorder=3)
ax.scatter([1 + 0.104, 1 + 0.274], a_kcl_dog, s=100, color='#c8642a', lw=0, zorder=3)
for cx, m in zip([-0.19, 0.19, 1 - 0.19, 1 + 0.19], a_means):
    ax.plot([cx - 0.13, cx + 0.13], [m, m], color='k', lw=1.6, ls=(0, (5, 1.6)), zorder=4)
for side in ['top', 'right']:
    ax.spines[side].set_visible(False)
ax.spines['left'].set_linewidth(1.9)
ax.spines['bottom'].set_linewidth(1.9)
ax.set_xticks([0, 1])
ax.set_xticklabels(a_groups, fontsize=20.5)
ax.tick_params(axis='x', length=0, pad=6)
ax.set_yticks(a_ticks)
ax.set_yticklabels(a_ticklabels, fontsize=17)
ax.tick_params(axis='y', length=9, width=1.9, pad=3)
ov.text(15, 371, 'Normalized read counts', rotation=90, fontsize=22, ha='center', va='center')
ov.text(52, 370, '(Clean DoG-producing genes)', rotation=90, fontsize=22, ha='center', va='center')
ov.scatter([541], [92.6], s=100, color='#2f6aa8', lw=0)
ov.scatter([541], [122.5], s=100, color='#c8642a', lw=0)
label(574, 90.6, 'UT', fontsize=18.5, va='center')
label(574, 120.5, 'KCl', fontsize=18.5, va='center')

# ===== B =====
ax = px_axes(726.6, 9.3, 1324, 296)
ax.set_xlim(-4.455, 4.09)
ax.set_ylim(-0.21, 4.67)
ax.set_axisbelow(True)
ax.set_xticks([-4, -2, 0, 2, 4])
ax.set_xticklabels(['-4', '-2', '0', '2', '4'], fontsize=17)
ax.set_yticks([0, 1, 2, 3, 4])
ax.set_yticklabels(['0', '1', '2', '3', '4'], fontsize=17)
ax.set_xticks([-3, -1, 1, 3], minor=True)
ax.set_yticks([0.5, 1.5, 2.5, 3.5], minor=True)
ax.tick_params(which='minor', length=0)
ax.tick_params(which='major', length=4, color='#555555', pad=3)
ax.grid(which='major', axis='y', color='#e6e6e6', lw=1.5)
ax.grid(which='major', axis='x', color='#e6e6e6', lw=1.0)
ax.grid(which='minor', color='#f0f0f0', lw=0.9)
ax.scatter(b_blue_x, b_blue_y, s=40, color='#1f35b0', alpha=0.74, lw=0, zorder=3)
ax.scatter(b_grey_x, b_grey_y, s=28, color='#8f8f8f', alpha=0.65, lw=0, zorder=3)
ax.scatter(b_pink_x, b_pink_y, s=30, color='#c02ec0', alpha=0.8, lw=0, zorder=3)
ax.axhline(0, color='k', lw=1.4, ls=(0, (3.5, 2.5)), zorder=4)
ax.axvline(0, ymax=0.98, color='k', lw=1.6, ls=(0, (3.5, 2.5)), zorder=4)
for side in ax.spines.values():
    side.set_color('#a0a0a0')
    side.set_linewidth(1.6)
ov.text(681, 170, 'DoG log$_{2}$ fold change', rotation=90, fontsize=20, ha='center', va='center')
label(1029, 340, 'Gene expression log$_{2}$ fold change', fontsize=22, ha='center', va='center')
for note, ny in zip(b_notes, [40, 70, 100]):
    label(1337, ny, note, fontsize=17.8, va='center')

# ===== C =====
ax = px_axes(741.7, 406, 1461, 740)
ax.set_xlim(0, 100)
ax.set_ylim(2.79, -0.80)
ax.barh(range(3), c_dog, height=0.806, color='k', lw=0)
ax.barh(range(3), c_non, left=c_dog, height=0.806, color='#a0a0a4', lw=0)
for side in ['top', 'right']:
    ax.spines[side].set_visible(False)
ax.spines['left'].set_linewidth(1.2)
ax.spines['bottom'].set_linewidth(2.0)
ax.set_yticks([])
ax.set_xticks([0, 50, 100])
ax.set_xticklabels(['0', '50', '100'], fontsize=11.5)
ax.set_xticks(range(0, 101, 5), minor=True)
ax.tick_params(axis='x', which='major', length=9, width=1.1, pad=3)
ax.tick_params(axis='x', which='minor', length=5, width=1.1)
for cat, val, n, ly, pct_y in zip(c_cats, c_dog, c_n, [481, 574, 667], [482, 575, 673]):
    label(732, ly - 1, cat, fontsize=16.5, ha='right', va='center')
    label(786, pct_y - 1, f'{val}%', fontsize=16.5, color='white', ha='center', va='center')
    label(1484, ly - 2, n, fontsize=13.5, va='center')
ov.fill([825, 853, 853, 825], [399, 399, 419, 419], color='k', lw=0)
ov.fill([1156, 1182, 1182, 1156], [401, 401, 418, 418], color='#a0a0a4', lw=0)
label(866, 409.5, 'DoG-producing genes', fontsize=16, va='center')
label(1196, 409.5, 'non-DoG genes', fontsize=16, va='center')
label(1098, 794, 'Percentage of clean genes', fontsize=18.3, ha='center', va='center')

# ===== D, OPA1 =====
tr = track_axes(105, 830.7, 1520, 877.7, 40)
spikes(tr, opa1_ut_grey_x, opa1_ut_grey_h, GREY)
binned(tr, 126, 8, opa1_ut_between_grey, GREY)
binned(tr, 122, 8, opa1_ut_pink_bins, PINK)
binned(tr, 126, 8, opa1_ut_between_pink, PINK)
spikes(tr, opa1_ut_pink_x, opa1_ut_pink_h, PINK)
binned(tr, 122, 8, opa1_ut_red_bins, RED)
binned(tr, 126, 8, opa1_ut_between_red, RED)
spikes(tr, opa1_ut_red_x, opa1_ut_red_h, RED)
binned(tr, 126, 8, opa1_ut_between_dark, DARK)
spikes(tr, opa1_ut_dark_x, opa1_ut_dark_h, DARK)
baseline(tr)
tr = track_axes(105, 900, 1520, 947, 40)
spikes(tr, opa1_kcl_grey_x, opa1_kcl_grey_h, GREY)
binned(tr, 900, 6, opa1_kcl_tail_grey, GREY)
spikes(tr, opa1_kcl_pink_x, opa1_kcl_pink_h, PINK)
binned(tr, 900, 6, opa1_kcl_tail_pink, PINK)
spikes(tr, opa1_kcl_red_x, opa1_kcl_red_h, RED)
binned(tr, 900, 6, opa1_kcl_tail_red, RED)
baseline(tr)

BLUE = '#1c32c0'
ov.plot([124, 800], [969, 969], color=BLUE, lw=1.9, solid_capstyle='butt')
ov.vlines(opa1_exons, 958, 979, color=BLUE, lw=1.7)
ov.fill([456, 467, 467, 456], [958, 958, 979, 979], color=BLUE, lw=0)
ov.fill([800, 825, 825, 800], [963, 963, 975, 975], color=BLUE, lw=0)
ov.plot([123.5, 123.5, 163], [958, 983, 983], color=BLUE, lw=1.9, solid_joinstyle='miter')
ov.fill([162, 176, 162], [975, 983.5, 992], color=BLUE, lw=0)
label(422, 1004, 'OPA1', fontsize=18, style='italic', ha='center', va='center')
ov.plot([1383, 1516], [956, 955], color='k', lw=1.2)
label(1451, 973, '20 kb', fontsize=15, ha='center', va='center')
for txt, tx, ty, fs in [('UT', 45, 859, 21), ('KCl', 45, 933, 21), ('40', 92, 833, 11.5), ('0', 92, 876, 11.5),
                        ('40', 90, 899, 11.5), ('0', 92, 946, 11.5)]:
    label(tx, ty, txt, fontsize=fs, ha='center', va='center')

# ===== D, SERBP1 =====
tr = track_axes(102, 1024, 903, 1077, 200)
spikes(tr, serbp1_ut_grey_x, serbp1_ut_grey_h, GREY)
binned(tr, 122, 5, serbp1_ut_pink_bins, PINK)
binned(tr, 122, 5, serbp1_ut_red_bins, RED)
binned(tr, 125, 5, serbp1_ut_between_red, RED)
spikes(tr, serbp1_ut_red_x, serbp1_ut_red_h, RED)
binned(tr, 122, 5, serbp1_ut_dark_bins, DARK)
binned(tr, 125, 5, serbp1_ut_between_dark, DARK)
baseline(tr)
tr = track_axes(102, 1089, 903, 1143, 200)
spikes(tr, serbp1_kcl_grey_x, serbp1_kcl_grey_h, GREY)
binned(tr, 372, 10, serbp1_kcl_tail_grey, GREY)
binned(tr, 377, 10, serbp1_kcl_tail_grey2, GREY)
binned(tr, 122, 5, serbp1_kcl_pink_bins, PINK)
binned(tr, 372, 10, serbp1_kcl_tail_pink, PINK)
binned(tr, 122, 5, serbp1_kcl_red_bins, RED)
binned(tr, 125, 5, serbp1_kcl_between_red, RED)
binned(tr, 372, 10, serbp1_kcl_tail_red, RED)
spikes(tr, serbp1_kcl_red_x, serbp1_kcl_red_h, RED)
binned(tr, 122, 5, serbp1_kcl_dark_bins, DARK)
baseline(tr)

GENE_GREY = '#808080'
ov.plot([121, 257], [1162, 1162], color=GENE_GREY, lw=1.9)
ov.vlines(serbp1_exons, 1155, 1173, color=GENE_GREY, lw=1.9)
ov.fill([120.5, 126, 126, 120.5], [1155, 1155, 1173, 1173], color=GENE_GREY, lw=0)
ov.fill([161, 166, 166, 161], [1155, 1155, 1173, 1173], color=GENE_GREY, lw=0)
ov.fill([257, 304, 304, 257], [1157, 1157, 1171, 1171], color=GENE_GREY, lw=0)
ov.plot([122, 122, 144], [1173, 1186, 1186], color=GENE_GREY, lw=1.9, solid_joinstyle='miter')
ov.fill([143.5, 157, 143.5], [1178, 1186, 1194], color=GENE_GREY, lw=0)
label(212, 1208, 'SERBP1', fontsize=17, style='italic', ha='center', va='center')
ov.plot([828, 903], [1152, 1152], color='k', lw=1.2)
label(867, 1168, '10 kb', fontsize=15, ha='center', va='center')
for txt, tx, ty, fs in [('UT', 45, 1053, 21), ('KCl', 45, 1128, 21), ('200', 92, 1026, 11.5), ('0', 95, 1073, 11.5),
                        ('200', 90, 1094, 11.5), ('0', 93, 1139, 11.5)]:
    label(tx, ty, txt, fontsize=fs, ha='center', va='center')

# ===== D, SERTAD1 =====
tr = track_axes(1033, 1034, 1484, 1069, 106)
tr.set_xlim(295, 1473)
tr.fill_between(sert_ut_grey_x, sert_ut_grey_h, color=GREY, lw=0)
tr.fill_between(sert_ut_pink_x, sert_ut_pink_h, color=PINK, lw=0)
tr.fill_between(sert_ut_red_x, sert_ut_red_h, color=RED, lw=0)
tr.fill_between(sert_ut_dark_x, sert_ut_dark_h, color=DARK, lw=0)
baseline(tr)
tr = track_axes(1033, 1078, 1484, 1136, 175)
tr.set_xlim(295, 1473)
tr.fill_between(sert_kcl_grey_x, sert_kcl_grey_h, color=GREY, lw=0)
tr.fill_between(sert_kcl_pink_x, sert_kcl_pink_h, color=PINK, lw=0)
tr.fill_between(sert_kcl_red_x, sert_kcl_red_h, color=RED, lw=0)
tr.fill_between(sert_kcl_dark_x, sert_kcl_dark_h, color=DARK, lw=0)
baseline(tr)

MAG = '#c832cc'
ov.plot([1046, 1129], [1166, 1166], color=MAG, lw=1.9)
ov.fill([1042.5, 1048, 1048, 1042.5], [1161, 1161, 1173, 1173], color=MAG, lw=0)
ov.fill([1128.6, 1155, 1155, 1128.6], [1156, 1156, 1176, 1176], color=MAG, lw=0)
ov.fill([1155, 1198.6, 1198.6, 1155], [1161, 1161, 1172, 1172], color=MAG, lw=0)
ov.plot([1043, 1043, 1058], [1172, 1188, 1188], color=MAG, lw=1.9, solid_joinstyle='miter')
ov.fill([1057, 1070, 1057], [1179, 1187.5, 1196], color=MAG, lw=0)
label(1127, 1201, 'SERTAD1', fontsize=17, style='italic', ha='center', va='center')
ov.plot([1412, 1482], [1145, 1145], color='k', lw=1.2)
label(1447, 1161, '2 kb', fontsize=15, ha='center', va='center')
for txt, tx, ty, fs in [('UT', 978, 1056, 21), ('KCl', 974, 1131, 21), ('40', 1018, 1033, 11.5),
                        ('0', 1021, 1071, 11.5), ('40', 1016.5, 1093, 11.5), ('0', 1019.5, 1136, 11.5)]:
    label(tx, ty, txt, fontsize=fs, ha='center', va='center')


# ===== E, F =====
def enrich_panel(box, xmax, major, minor, terms, scores, term_fs, text_x, text_y, title, title_x, ytop, ybottom, bar_h,
                 arrow_x, arrow_top, head, ylab_x, ylab_y, comb_x, comb_y, n_txt, n_y, tick_fs):
    ax = px_axes(*box)
    ax.set_xlim(0, xmax)
    ax.set_ylim(ybottom, ytop)
    ax.barh(range(len(scores)), scores, height=bar_h, color='#fde7b2', edgecolor='#a39c80', lw=1.1)
    for side in ['top', 'right']:
        ax.spines[side].set_visible(False)
    ax.spines['left'].set_linewidth(1.1)
    ax.spines['bottom'].set_linewidth(2.0)
    ax.set_yticks([])
    ax.set_xticks(range(0, xmax + 1, major))
    ax.set_xticks(range(0, xmax + 1, minor), minor=True)
    ax.tick_params(axis='x', which='major', length=7, width=1.1, pad=3, labelsize=tick_fs)
    ax.tick_params(axis='x', which='minor', length=4, width=1.1)
    for term, tx, ty in zip(terms, text_x, text_y):
        ov.text(tx, ty + 1, term, fontsize=term_fs, fontweight='bold', va='center')
    label(title_x, 1299, title, fontsize=20, ha='center', va='center')
    ov.plot([arrow_x, arrow_x], [arrow_top, head[2] - 4], color='k', lw=1.5)
    ov.fill([head[0], head[1], arrow_x], [head[2], head[2], head[3]], color='k', lw=0)
    ov.text(ylab_x, ylab_y, 'Increasing p-value', rotation=90, fontsize=16, ha='center', va='center')
    label(comb_x, comb_y, 'Combined score', fontsize=20, ha='center', va='center')
    label(comb_x, n_y, n_txt, fontsize=20, ha='center', va='center')


enrich_panel((50.7, 1315, 763, 1695), 50, 10, 1, e_terms, e_scores, 12.0,
             [57, 59, 59, 58, 59, 57, 56, 56, 56, 57],
             [1339, 1377, 1414, 1449, 1487, 1523, 1562, 1597, 1634, 1670],
             'Clean DoG-producing Genes', 334, -0.678, 9.62, 0.645,
             35, 1332, (22, 47, 1689, 1707), 17, 1510, 406.5, 1752, 'n=590', 1783, 10)
enrich_panel((823.6, 1313, 1536, 1696), 80, 20, 2, f_terms, f_scores, 12.3,
             [830, 830, 830, 830, 830, 831, 830, 829, 828, 829],
             [1338, 1378, 1413, 1450, 1488, 1523, 1559, 1597, 1635, 1672],
             'Clean non-DoG Genes', 1124, -0.664, 9.63, 0.645,
             807, 1338, (795, 820, 1694, 1712), 788, 1515, 1178, 1756, 'n=3994', 1784, 10)

fig.savefig('out.png', dpi=100)
